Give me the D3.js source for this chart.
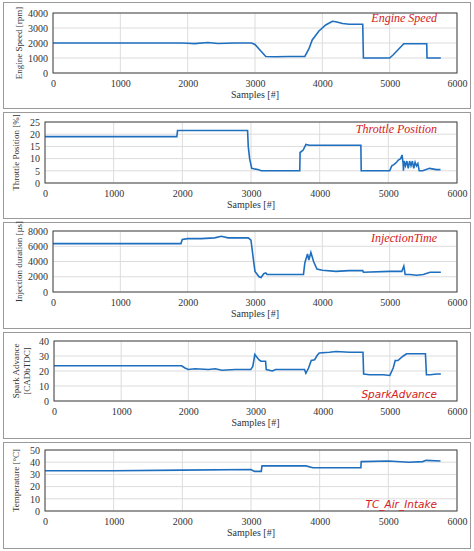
<!DOCTYPE html>
<html><head><meta charset="utf-8">
<script src="https://cdn.jsdelivr.net/npm/d3@7"></script>
<style>body{margin:0;background:#fff} text.s{font-family:"Liberation Serif","DejaVu Serif",serif}</style></head>
<body><svg id="c" width="474" height="551"></svg>
<script>
const xTicks=[0,1000,2000,3000,4000,5000,6000];
const engineSpeed=[[0,2000],[1900,2000],[2000,1980],[2100,1960],[2300,2030],[2450,1970],[2700,2000],[2950,2000],[3000,1900],[3100,1400],[3160,1100],[3300,1080],[3500,1100],[3740,1100],[3800,1600],[3850,2200],[3950,2800],[4050,3200],[4150,3450],[4200,3420],[4300,3300],[4400,3250],[4600,3250],[4610,1000],[5000,1000],[5050,1200],[5210,1950],[5550,1950],[5555,1000],[5760,1000]];
const throttle=[[0,19],[1920,19],[1930,21.5],[2950,21.5],[2960,15],[2980,10],[3010,6],[3100,5.5],[3150,5],[3710,5],[3715,12.5],[3760,13.5],[3800,15.8],[3850,15.5],[4600,15.5],[4605,5],[5020,5],[5050,7],[5080,7.5],[5120,8.5],[5150,9.5],[5180,10],[5200,11.5],[5215,8],[5220,5],[5230,9],[5250,7],[5270,9],[5290,6],[5310,9],[5330,7],[5350,9],[5370,6],[5390,8.5],[5410,7],[5430,8],[5450,5],[5500,5],[5600,6],[5700,5.5],[5760,5.5]];
const injection=[[0,6350],[1900,6350],[1920,6900],[2000,7000],[2200,7000],[2400,7100],[2500,7300],[2600,7100],[2900,7100],[2940,6800],[2980,4000],[3000,2700],[3060,2000],[3090,1900],[3130,2400],[3160,2500],[3180,2300],[3720,2300],[3740,3800],[3780,5000],[3800,4200],[3830,5200],[3870,4000],[3920,3000],[4000,2850],[4200,2700],[4400,2800],[4600,2800],[4610,2600],[5000,2700],[5180,2700],[5210,3400],[5230,2300],[5300,2300],[5400,2200],[5500,2300],[5600,2600],[5760,2600]];
const spark=[[0,23.5],[1900,23.5],[1950,22],[2000,21],[2100,21.5],[2300,21],[2400,21.5],[2500,20.5],[2700,21],[2930,21],[2960,23],[2990,31],[3050,27.5],[3080,26.5],[3150,26.5],[3160,21],[3250,20],[3300,21],[3730,21],[3750,18.5],[3790,22],[3830,27],[3880,27.5],[3920,30.5],[3950,32],[4100,32.5],[4200,33],[4400,32.5],[4600,32.5],[4610,18],[4700,17.5],[4900,17.5],[5000,17],[5050,22],[5080,27],[5120,27],[5200,30],[5250,31.5],[5530,31.5],[5545,17.5],[5600,17.5],[5700,18],[5760,18]];
const temp=[[0,33],[1000,33],[2000,33.5],[3000,34],[3050,32.5],[3150,32.5],[3160,37],[3800,37],[3900,35.5],[4600,35.5],[4605,40.5],[5000,41],[5300,40],[5500,40.5],[5550,41.5],[5760,41]];

const panels=[
 {data:engineSpeed,yt:[0,1000,2000,3000,4000],ylab:["Engine Speed [rpm]"],title:"Engine Speed",x0:53,t:13,b:73,ty:22,serif:true},
 {data:throttle,yt:[0,5,10,15,20,25],ylab:["Throttle Position  [%]"],title:"Throttle Position",x0:45,t:122,b:183,ty:133,serif:true},
 {data:injection,yt:[0,2000,4000,6000,8000],ylab:["Injection duration [µs]"],title:"InjectionTime",x0:53,t:231,b:292,ty:242,serif:true},
 {data:spark,yt:[0,10,20,30,40],ylab:["Spark Advance","[CADbTDC]"],title:"SparkAdvance",x0:54,t:341,b:401,ty:398,serif:false},
 {data:temp,yt:[0,10,20,30,40,50],ylab:["Temperature [°C]"],title:"TC_Air_Intake",x0:45,t:450,b:511,ty:508,serif:false}
];
const svg=d3.select("#c");
panels.forEach((p,i)=>{
 const top=2+i*110;
 svg.append("rect").attr("x",3.5).attr("y",top+0.5).attr("width",467).attr("height",106).attr("fill","#fff").attr("stroke","#9a9a9a");
 const x=d3.scaleLinear().domain([0,6000]).range([p.x0,457]);
 const y=d3.scaleLinear().domain([p.yt[0],p.yt[p.yt.length-1]]).range([p.b,p.t]);
 const g=svg.append("g");
 g.selectAll(".gx").data(xTicks).join("line").attr("x1",d=>x(d)).attr("x2",d=>x(d)).attr("y1",p.t).attr("y2",p.b).attr("stroke","#dcdcdc");
 g.selectAll(".gy").data(p.yt).join("line").attr("x1",p.x0).attr("x2",457).attr("y1",d=>y(d)).attr("y2",d=>y(d)).attr("stroke","#dcdcdc");
 const xa=g.append("g").attr("transform",`translate(0,${p.b})`).call(d3.axisBottom(x).tickValues(xTicks).tickFormat(d3.format("d")).tickSize(0).tickPadding(7));
 const ya=g.append("g").attr("transform",`translate(${p.x0},0)`).call(d3.axisLeft(y).tickValues(p.yt).tickFormat(d3.format("d")).tickSize(0).tickPadding(5));
 [xa,ya].forEach(a=>{a.select(".domain").remove();a.attr("font-family",null);a.selectAll("text").attr("class","s").attr("font-size",10).attr("fill","#333");});
 g.append("path").datum(p.data).attr("fill","none").attr("stroke","#1f6fbf").attr("stroke-width",1.6)
  .attr("d",d3.line().x(d=>x(d[0])).y(d=>y(d[1])));
 g.append("rect").attr("x",p.x0).attr("y",p.t).attr("width",457-p.x0).attr("height",p.b-p.t).attr("fill","none").attr("stroke","#444");
 g.append("text").attr("class","s").attr("x",(p.x0+457)/2).attr("y",p.b+25).attr("text-anchor","middle").attr("font-size",10).attr("fill","#333").text("Samples [#]");
 const cy=(p.t+p.b)/2;
 const lx=p.ylab.length>1?19:(p.x0>50?22:19);
 p.ylab.forEach((l,k)=>{
  g.append("text").attr("class","s").attr("transform",`translate(${lx+k*11},${cy}) rotate(-90)`).attr("text-anchor","middle").attr("font-size",9).attr("fill","#333").text(l);
 });
 const tt=g.append("text").attr("x",437).attr("y",p.ty).attr("text-anchor","end").attr("font-style","italic")
  .attr("font-size",p.serif?12:10.5).attr("fill","#d42020").text(p.title);
 if(p.serif) tt.attr("class","s"); else tt.attr("font-family","DejaVu Sans, sans-serif");
});
</script></body></html>
